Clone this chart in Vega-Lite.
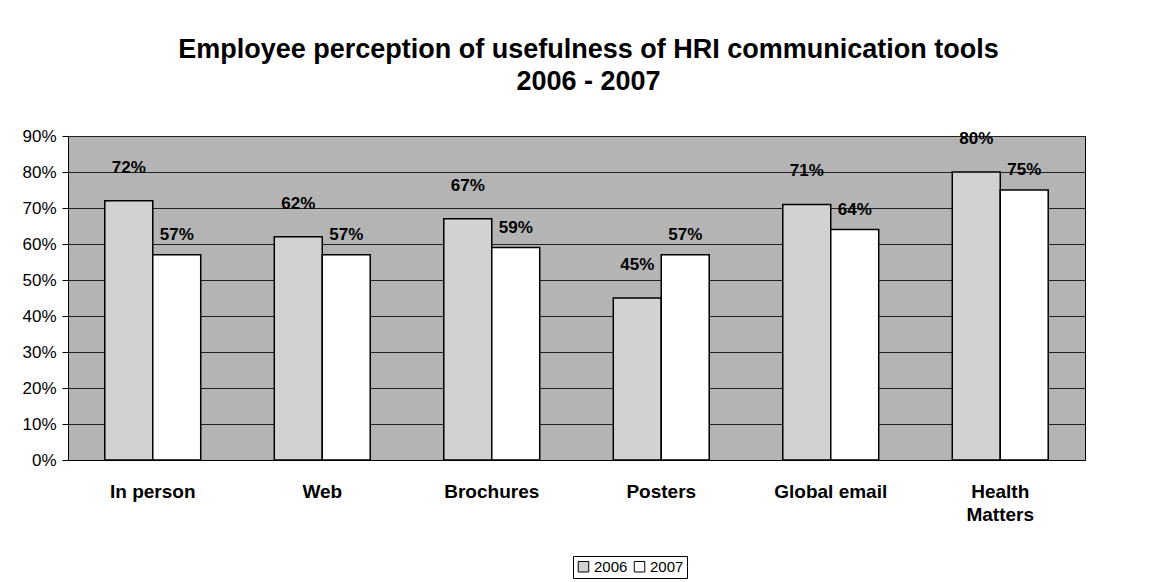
{
  "$schema": "https://vega.github.io/schema/vega-lite/v6.json",
  "width": 1017,
  "height": 324,
  "autosize": {"type": "none"},
  "padding": {"left": 68, "top": 136, "right": 88, "bottom": 122},
  "background": "white",
  "title": {
    "text": ["Employee perception of usefulness of HRI communication tools", "2006 - 2007"],
    "font": "Liberation Sans",
    "fontSize": 27,
    "fontWeight": "bold",
    "color": "black",
    "anchor": "middle",
    "dx": 12,
    "offset": 31,
    "lineHeight": 32
  },
  "data": {
    "values": [
      {"tool": "In person", "year": "2006", "value": 0.72},
      {"tool": "In person", "year": "2007", "value": 0.57},
      {"tool": "Web", "year": "2006", "value": 0.62},
      {"tool": "Web", "year": "2007", "value": 0.57},
      {"tool": "Brochures", "year": "2006", "value": 0.67},
      {"tool": "Brochures", "year": "2007", "value": 0.59},
      {"tool": "Posters", "year": "2006", "value": 0.45},
      {"tool": "Posters", "year": "2007", "value": 0.57},
      {"tool": "Global email", "year": "2006", "value": 0.71},
      {"tool": "Global email", "year": "2007", "value": 0.64},
      {"tool": "Health Matters", "year": "2006", "value": 0.80},
      {"tool": "Health Matters", "year": "2007", "value": 0.75}
    ]
  },
  "encoding": {
    "x": {
      "field": "tool",
      "type": "nominal",
      "sort": null,
      "title": null,
      "scale": {"paddingInner": 0.434, "paddingOuter": 0.217},
      "axis": {
        "labelAngle": 0,
        "labelFont": "Liberation Sans",
        "labelFontSize": 19,
        "labelFontWeight": "bold",
        "labelColor": "black",
        "labelPadding": 22,
        "labelBaseline": "top",
        "labelLineHeight": 23,
        "labelExpr": "datum.label == 'Health Matters' ? ['Health', 'Matters'] : datum.label",
        "ticks": false,
        "domainColor": "black",
        "grid": false
      }
    },
    "xOffset": {"field": "year", "type": "nominal", "scale": {"paddingInner": 0, "paddingOuter": 0}},
    "y": {
      "field": "value",
      "type": "quantitative",
      "title": null,
      "scale": {"domain": [0, 0.9], "nice": false},
      "axis": {
        "format": ".0%",
        "values": [0, 0.1, 0.2, 0.3, 0.4, 0.5, 0.6, 0.7, 0.8, 0.9],
        "labelFont": "Liberation Sans",
        "labelFontSize": 17,
        "labelColor": "black",
        "labelPadding": 6,
        "tickSize": 6,
        "tickColor": "black",
        "domainColor": "black",
        "grid": true,
        "gridColor": "#222222",
        "gridWidth": 1
      }
    }
  },
  "layer": [
    {
      "mark": {"type": "bar", "stroke": "black", "strokeWidth": 1.5},
      "encoding": {
        "fill": {
          "field": "year",
          "type": "nominal",
          "scale": {"domain": ["2006", "2007"], "range": ["#d2d2d2", "#ffffff"]},
          "legend": {
            "title": null,
            "orient": "none",
            "direction": "horizontal",
            "legendX": 505,
            "legendY": 420,
            "labelFont": "Liberation Sans",
            "labelFontSize": 15,
            "labelColor": "black",
            "symbolType": "square",
            "symbolSize": 110,
            "symbolStrokeColor": "black",
            "symbolStrokeWidth": 1,
            "strokeColor": "black",
            "padding": 3,
            "columnPadding": 4,
            "labelOffset": 3
          }
        }
      }
    },
    {
      "transform": [{"filter": "datum.year == '2006'"}],
      "mark": {"type": "text", "font": "Liberation Sans", "fontSize": 17, "fontWeight": "bold", "color": "black", "baseline": "middle", "dy": -33},
      "encoding": {"text": {"field": "value", "type": "quantitative", "format": ".0%"}}
    },
    {
      "transform": [{"filter": "datum.year == '2007'"}],
      "mark": {"type": "text", "font": "Liberation Sans", "fontSize": 17, "fontWeight": "bold", "color": "black", "baseline": "middle", "dy": -20},
      "encoding": {"text": {"field": "value", "type": "quantitative", "format": ".0%"}}
    }
  ],
  "config": {
    "view": {"fill": "#b4b4b4", "stroke": "black", "strokeWidth": 1}
  }
}
